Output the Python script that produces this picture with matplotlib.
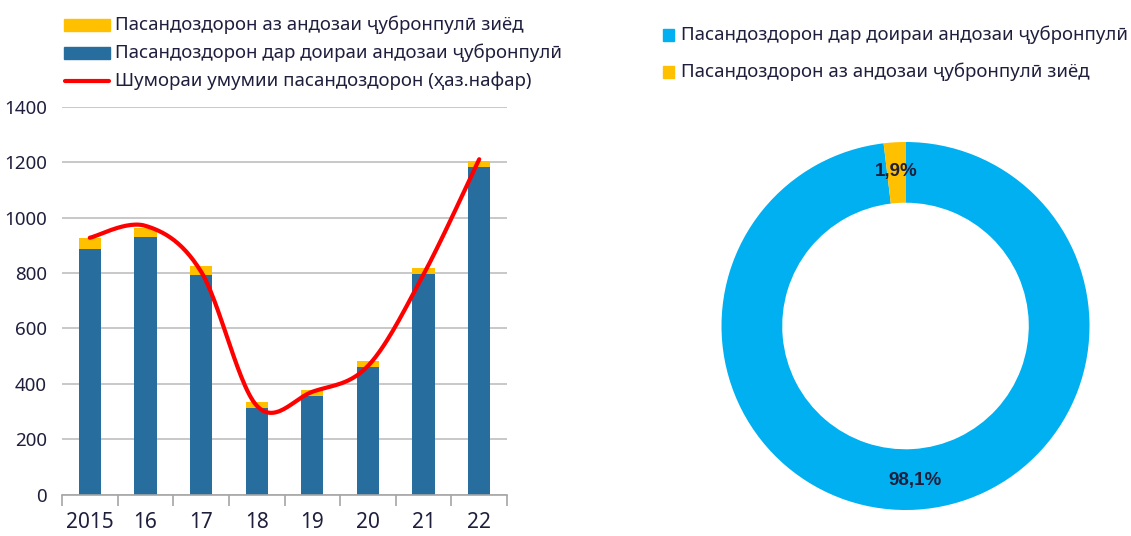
import numpy as np
import matplotlib
matplotlib.use('Agg')
import matplotlib.pyplot as plt
from matplotlib.patches import Rectangle
from matplotlib.lines import Line2D

plt.rcParams['font.family'] = ['Noto Sans', 'DejaVu Sans']

# data
years = ['2015', '16', '17', '18', '19', '20', '21', '22']
within = [886, 931, 794, 315, 357, 462, 798, 1182]     # in the compensation size
above = [40, 31, 31, 21, 20, 22, 19, 23]               # above the compensation size
total_line = [927, 970, 805, 322, 372, 465, 795, 1210]  # total pensioners (thous.)

pie_labels = ['Пасандоздорон дар доираи андозаи ҷубронпулӣ',
              'Пасандоздорон аз андозаи ҷубронпулӣ зиёд']
pie_shares = [98.1, 1.9]

blue_bar = '#276E9E'
yellow = '#FFC000'
cyan = '#00B0F0'
txt = '#1F1F3D'


def smooth(x, y, n=30):
    # bezier smoothing like the spreadsheet "smoothed line"
    x = np.asarray(x, float); y = np.asarray(y, float)
    xs, ys = [], []
    for i in range(len(x) - 1):
        i0 = max(i - 1, 0); i3 = min(i + 2, len(x) - 1)
        p0 = np.array([x[i], y[i]]); p3 = np.array([x[i + 1], y[i + 1]])
        p1 = p0 + (np.array([x[i + 1], y[i + 1]]) - np.array([x[i0], y[i0]])) / 6
        p2 = p3 - (np.array([x[i3], y[i3]]) - np.array([x[i], y[i]])) / 6
        t = np.linspace(0, 1, n)[:, None]
        b = (1 - t)**3 * p0 + 3 * (1 - t)**2 * t * p1 + 3 * (1 - t) * t**2 * p2 + t**3 * p3
        xs.extend(b[:, 0]); ys.extend(b[:, 1])
    return np.array(xs), np.array(ys)


fig = plt.figure(figsize=(11.31, 5.36), dpi=100)
W, H = 1131, 536

# bar + line chart
ax = fig.add_axes([0.0548, 0.0765, 0.3935, 0.7248])
xpos = np.arange(len(years))
ax.bar(xpos, within, width=0.4, color=blue_bar, zorder=2)
ax.bar(xpos, above, width=0.4, bottom=within, color=yellow, zorder=2)
sx, sy = smooth(xpos, total_line)
ax.plot(sx, sy, color='#FF0000', lw=3, solid_capstyle='round', zorder=3)

ax.set_xlim(-0.5, len(years) - 0.5)
ax.set_ylim(0, 1400)
ax.set_yticks(np.arange(0, 1401, 200))
ax.yaxis.grid(True, color='#BFBFBF', lw=1.2)
ax.set_axisbelow(True)
for s in ['top', 'right', 'left']:
    ax.spines[s].set_visible(False)
ax.spines['bottom'].set_color('#A6A6A6')
ax.spines['bottom'].set_linewidth(1.2)
ax.tick_params(axis='y', length=0, labelsize=13.5, labelcolor=txt, pad=11)
ax.set_xticks(xpos)
ax.set_xticklabels(years)
ax.tick_params(axis='x', length=0, labelsize=15, labelcolor=txt, pad=12)
ax.set_xticks(np.arange(-0.5, len(years)), minor=True)
ax.tick_params(axis='x', which='minor', length=8, color='#A6A6A6', width=1.2)

# left legend
leg_items = [(yellow, 'Пасандоздорон аз андозаи ҷубронпулӣ зиёд', 'patch'),
             (blue_bar, 'Пасандоздорон дар доираи андозаи ҷубронпулӣ', 'patch'),
             ('#FF0000', 'Шумораи умумии пасандоздорон (ҳаз.нафар)', 'line')]
for i, (c, lab, kind) in enumerate(leg_items):
    yc = 25 + i * 28
    if kind == 'patch':
        fig.add_artist(Rectangle((64 / W, 1 - (yc + 6) / H), 46 / W, 12 / H,
                                 transform=fig.transFigure, color=c))
    else:
        fig.add_artist(Line2D([65 / W, 109 / W], [1 - yc / H] * 2, transform=fig.transFigure,
                              color=c, lw=3, solid_capstyle='round'))
    fig.text(115 / W, 1 - yc / H, lab, fontsize=13.4, color=txt, va='center', ha='left')

# donut chart
ax2 = fig.add_axes([721.5 / W, 1 - 510 / H, 368 / W, 368 / H])
wedges, texts, autotexts = ax2.pie(
    pie_shares, colors=[cyan, yellow], startangle=90, counterclock=False,
    wedgeprops=dict(width=0.33, linewidth=0),
    autopct=lambda p: f'{p:.1f}%'.replace('.', ','), pctdistance=0.84)
for t in autotexts:
    t.set_fontfamily(['Liberation Sans', 'DejaVu Sans'])
    t.set_fontsize(13.5)
    t.set_fontweight('bold')
    t.set_color(txt)
ax2.set_xlim(-1, 1)
ax2.set_ylim(-1, 1)
ax2.set_aspect('equal')

for i, (c, lab) in enumerate(zip([cyan, yellow], pie_labels)):
    yc = 35 + i * 37
    fig.add_artist(Rectangle((663 / W, 1 - (yc + 6) / H), 11 / W, 12 / H,
                             transform=fig.transFigure, color=c))
    fig.text(681 / W, 1 - yc / H, lab, fontsize=13.4, color=txt, va='center', ha='left')

fig.savefig('out.png', dpi=100)
